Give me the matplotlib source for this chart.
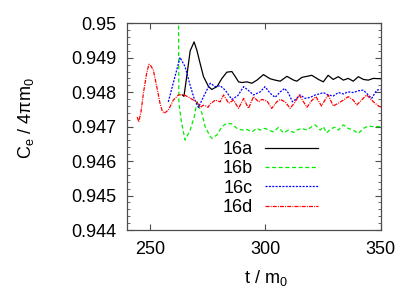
import matplotlib
matplotlib.use("Agg")
import matplotlib.pyplot as plt
from matplotlib.ticker import MultipleLocator

plt.rcParams['font.family'] = ['Liberation Sans', 'DejaVu Sans']
plt.rcParams['mathtext.fontset'] = 'custom'
plt.rcParams['mathtext.rm'] = 'Liberation Sans'
plt.rcParams['mathtext.it'] = 'Liberation Sans'

# ---------------------------------------------------------------------------
# Data

t_16a = [263.9, 264.6, 265.8, 267.3, 269.0, 270.2, 271.6, 273.1, 275.3, 276.7,
         278.9, 281.1, 283.2, 285.4, 286.9, 288.3, 289.8, 291.9, 294.1, 296.3,
         299.1, 302.0, 304.2, 306.4, 309.3, 312.2, 313.6, 315.8, 318.0, 320.1,
         323.0, 325.1, 327.2, 329.4, 331.6, 333.8, 335.9, 338.1, 340.3, 342.5,
         344.6, 346.8, 350.0]
C_16a = [0.94792, 0.94788, 0.94845, 0.94920, 0.94946, 0.94922, 0.94884, 0.94845, 0.94816, 0.94808,
         0.94816, 0.94840, 0.94858, 0.94860, 0.94845, 0.94830, 0.94828, 0.94830, 0.94826, 0.94835,
         0.94851, 0.94839, 0.94835, 0.94832, 0.94846, 0.94835, 0.94832, 0.94843, 0.94846, 0.94849,
         0.94837, 0.94830, 0.94849, 0.94837, 0.94845, 0.94835, 0.94840, 0.94832, 0.94845, 0.94837,
         0.94835, 0.94840, 0.94839]

t_16b = [262.2, 262.4, 263.6, 265.1, 267.3, 269.1, 270.2, 272.4, 273.8, 276.0,
         276.7, 278.9, 281.1, 283.2, 285.4, 287.6, 289.8, 291.9, 294.1, 296.3,
         297.7, 299.8, 302.0, 303.5, 305.6, 307.8, 310.0, 312.2, 313.6, 315.8,
         318.0, 320.1, 321.6, 323.8, 325.1, 326.5, 328.7, 330.1, 331.6, 333.8,
         335.9, 338.1, 340.3, 342.5, 344.6, 346.8, 350.0]
C_16b = [0.95100, 0.94768, 0.94710, 0.94661, 0.94690, 0.94729, 0.94772, 0.94739, 0.94700, 0.94671,
         0.94666, 0.94676, 0.94700, 0.94710, 0.94708, 0.94695, 0.94690, 0.94692, 0.94685, 0.94695,
         0.94690, 0.94695, 0.94688, 0.94685, 0.94698, 0.94682, 0.94690, 0.94683, 0.94690, 0.94695,
         0.94690, 0.94700, 0.94705, 0.94690, 0.94700, 0.94682, 0.94695, 0.94698, 0.94690, 0.94705,
         0.94695, 0.94690, 0.94680, 0.94695, 0.94702, 0.94700, 0.94700]

t_16c = [257.8, 260.7, 262.9, 265.1, 267.3, 269.1, 270.9, 273.1, 276.0, 278.2,
         280.3, 282.5, 285.4, 288.0, 290.5, 292.6, 294.8, 297.7, 299.8, 302.0,
         304.2, 306.4, 308.3, 310.0, 311.7, 313.6, 315.1, 317.2, 319.4, 321.6,
         323.5, 325.1, 327.2, 329.4, 331.6, 333.8, 335.9, 338.1, 340.3, 342.5,
         344.6, 346.1, 348.3, 350.0]
C_16c = [0.94772, 0.94845, 0.94901, 0.94874, 0.94820, 0.94780, 0.94756, 0.94787, 0.94826, 0.94816,
         0.94819, 0.94806, 0.94779, 0.94790, 0.94816, 0.94805, 0.94792, 0.94801, 0.94816, 0.94797,
         0.94785, 0.94801, 0.94811, 0.94797, 0.94772, 0.94782, 0.94792, 0.94782, 0.94785, 0.94792,
         0.94795, 0.94799, 0.94792, 0.94789, 0.94799, 0.94795, 0.94801, 0.94799, 0.94804, 0.94806,
         0.94792, 0.94782, 0.94806, 0.94808]

t_16d = [244.3, 245.0, 246.0, 247.0, 248.4, 249.4, 250.3, 251.3, 252.8, 254.2,
         255.2, 256.1, 257.8, 260.0, 262.2, 264.4, 266.5, 268.5, 270.2, 271.6,
         273.0, 274.2, 275.0, 276.0, 278.2, 280.3, 281.8, 284.0, 286.1, 288.3,
         290.5, 292.6, 294.8, 297.0, 298.4, 300.6, 302.7, 304.9, 306.4, 308.5,
         310.7, 312.9, 314.6, 316.5, 318.0, 320.1, 321.9, 324.3, 325.8, 327.2,
         329.4, 331.6, 333.8, 335.9, 338.1, 339.6, 341.7, 343.9, 346.1, 347.5,
         350.0]
C_16d = [0.94728, 0.94714, 0.94745, 0.94797, 0.94855, 0.94881, 0.94876, 0.94864, 0.94816, 0.94768,
         0.94745, 0.94739, 0.94748, 0.94777, 0.94792, 0.94793, 0.94786, 0.94778, 0.94772, 0.94756,
         0.94762, 0.94760, 0.94756, 0.94766, 0.94777, 0.94772, 0.94792, 0.94768, 0.94777, 0.94753,
         0.94782, 0.94753, 0.94787, 0.94772, 0.94779, 0.94775, 0.94753, 0.94772, 0.94779, 0.94772,
         0.94753, 0.94772, 0.94792, 0.94772, 0.94756, 0.94776, 0.94787, 0.94760, 0.94777, 0.94792,
         0.94760, 0.94768, 0.94777, 0.94787, 0.94777, 0.94763, 0.94777, 0.94792, 0.94777, 0.94768,
         0.94756]

x_ticks = [250, 300, 350]
y_ticks = [0.944, 0.945, 0.946, 0.947, 0.948, 0.949, 0.95]
y_ticklabels = ['0.944', '0.945', '0.946', '0.947', '0.948', '0.949', '0.95']

# ---------------------------------------------------------------------------
# Figure

fig = plt.figure(figsize=(4.15, 2.91), dpi=100)
ax = fig.add_axes([0.3067, 0.2096, 0.6106, 0.7104])

ax.plot(t_16a, C_16a, color='black', lw=0.9, label='16a')
ax.plot(t_16b, C_16b, color='#00ee00', lw=0.9, dashes=(3.2, 2.1), label='16b')
ax.plot(t_16c, C_16c, color='#0000ff', lw=0.9, dashes=(1.6, 1.1), label='16c')
ax.plot(t_16d, C_16d, color='#ff0000', lw=0.9, dashes=(3.2, 0.9, 0.8, 0.9), label='16d')

ax.set_xlim(240, 350)
ax.set_ylim(0.944, 0.95)
ax.set_xticks(x_ticks)
ax.set_yticks(y_ticks)
ax.set_yticklabels(y_ticklabels)
ax.yaxis.set_minor_locator(MultipleLocator(0.0002))

ax.tick_params(which='both', direction='in', top=True, right=True,
               labelsize=13, color='0.3')
ax.tick_params(axis='y', pad=8)
ax.tick_params(axis='x', pad=8)
ax.tick_params(which='major', length=4.5, width=0.8)
ax.tick_params(which='minor', length=2.5, width=0.6)
for s in ax.spines.values():
    s.set_color('0.3')
    s.set_linewidth(0.9)

ax.set_xlabel(r't / m$_0$', fontsize=13)
ax.xaxis.set_label_coords(0.547, -0.185)
ax.set_ylabel(r'C$_\mathrm{e}$ / 4$\pi$m$_0$', fontsize=13)
ax.yaxis.set_label_coords(-0.36, 0.54)

ax.legend(loc='upper right', bbox_to_anchor=(0.751, 0.43), frameon=False,
          markerfirst=False, fontsize=13, handlelength=2.9, handletextpad=0.7,
          labelspacing=0.13, borderpad=0, borderaxespad=0)

fig.savefig('out.png', dpi=100)
